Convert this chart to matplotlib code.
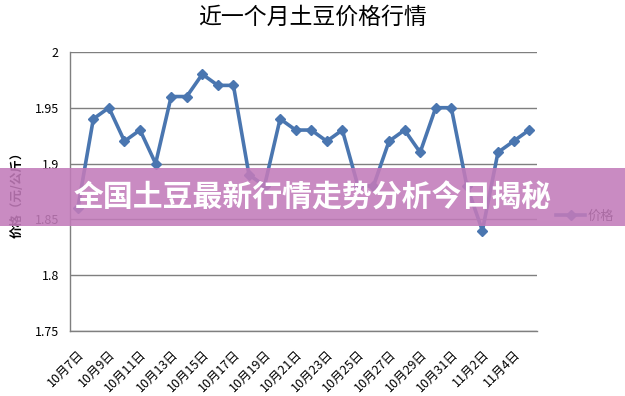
import matplotlib
matplotlib.use("Agg")
import matplotlib.pyplot as plt
from matplotlib.patches import Rectangle

plt.rcParams['font.family'] = ['Noto Sans CJK SC', 'DejaVu Sans']

# 近一个月土豆价格 (元/公斤), 10月7日 - 11月5日
dates = ["10月7日", "10月8日", "10月9日", "10月10日", "10月11日", "10月12日",
         "10月13日", "10月14日", "10月15日", "10月16日", "10月17日", "10月18日",
         "10月19日", "10月20日", "10月21日", "10月22日", "10月23日", "10月24日",
         "10月25日", "10月26日", "10月27日", "10月28日", "10月29日", "10月30日",
         "10月31日", "11月1日", "11月2日", "11月3日", "11月4日", "11月5日"]
prices = [1.86, 1.94, 1.95, 1.92, 1.93, 1.90, 1.96, 1.96, 1.98, 1.97,
          1.97, 1.89, 1.88, 1.94, 1.93, 1.93, 1.92, 1.93, 1.88, 1.88,
          1.92, 1.93, 1.91, 1.95, 1.95, 1.88, 1.84, 1.91, 1.92, 1.93]
yticks = [1.75, 1.8, 1.85, 1.9, 1.95, 2.0]
ytick_labels = ["1.75", "1.8", "1.85", "1.9", "1.95", "2"]

fig = plt.figure(figsize=(6.25, 3.96), dpi=100)
ax = fig.add_axes([0.112, 0.164, 0.747, 0.705])

x = list(range(len(dates)))
ax.plot(x, prices, color='#4a76b0', lw=2.6, marker='D', ms=5.5,
        markerfacecolor='#4a76b0', markeredgecolor='#4a76b0', label='价格', zorder=3)

ax.set_xlim(-0.5, len(dates) - 0.5)
ax.set_ylim(1.75, 2.0)
ax.set_yticks(yticks)
ax.set_yticklabels(ytick_labels, fontsize=9)
ax.set_xticks(x[::2])
ax.set_xticklabels(dates[::2], rotation=45, ha='right', va='top',
                   rotation_mode='anchor', fontsize=9, fontweight='light')
ax.tick_params(axis='both', length=0)
ax.tick_params(axis='x', pad=12)
ax.tick_params(axis='y', pad=8)

ax.grid(axis='y', color='#7f7f7f', lw=1.0)
ax.set_axisbelow(True)
for s in ['top', 'right']:
    ax.spines[s].set_visible(False)
for s in ['left', 'bottom']:
    ax.spines[s].set_color('#7f7f7f')
    ax.spines[s].set_linewidth(1.0)

ax.set_ylabel('价格（元/公斤）', fontsize=9, fontweight='bold', labelpad=8)
fig.suptitle('近一个月土豆价格行情', fontsize=16.5, fontweight='light', y=0.985)

ax.legend(loc='center left', bbox_to_anchor=(1.03, 0.41), frameon=False,
          fontsize=9.5, handlelength=2.2, handletextpad=0.2, borderaxespad=0)

# banner overlay
fig.add_artist(Rectangle((0, 1 - 226 / 396), 1, 58 / 396, transform=fig.transFigure,
                         facecolor='#c27bba', alpha=0.88, edgecolor='none', zorder=10))
fig.text(0.5, 1 - 198 / 396, '全国土豆最新行情走势分析今日揭秘', color='white',
         fontsize=21.5, fontweight='heavy', ha='center', va='center', zorder=11)

fig.savefig('out.png', dpi=100)
